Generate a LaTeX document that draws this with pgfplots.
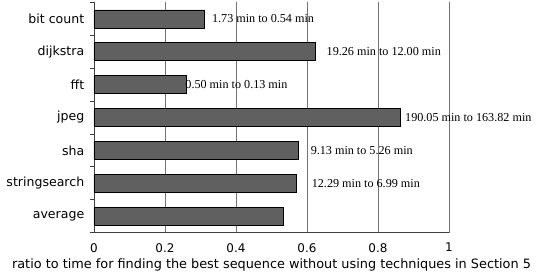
\documentclass[border=0pt]{standalone}
\usepackage{pgfplots}
\pgfplotsset{compat=1.18}
\usepackage{fontspec}
\setmainfont{DejaVu Sans}
\newfontfamily\timesfont{Liberation Serif}
\definecolor{barfill}{RGB}{96,96,96}
\begin{document}
\begin{tikzpicture}
\begin{axis}[
  scale only axis,
  width=355bp, height=230bp,
  xmin=0, xmax=1, ymin=-0.5, ymax=6.5,
  axis x line=bottom, axis y line=left,
  axis line style={-, black!75},
  xtick={0,0.2,0.4,0.6,0.8,1},
  xticklabels={0,0.2,0.4,0.6,0.8,1},
  xmajorgrids, major grid style={black!55, line width=0.6pt},
  x tick style={draw=none},
  ytick={0,...,6},
  yticklabels={average,stringsearch,sha,jpeg,fft,dijkstra,bit count},
  minor ytick={-0.5,0.5,...,6.5},
  y tick style={draw=none},
  minor y tick style={draw=black!75, line width=0.6pt},
  minor tick length=4bp,
  tick align=outside,
  xticklabel style={font=\fontsize{12}{14}\selectfont, yshift=-3bp},
  yticklabel style={font=\fontsize{12.6}{14}\selectfont, xshift=-2bp},
  xlabel={ratio to time for finding the best sequence without using techniques in Section 5},
  xlabel style={font=\fontsize{12.9}{15}\selectfont, yshift=0bp},
  clip=false,
]
\addplot[xbar, bar width=18bp, fill=barfill, draw=black, line width=0.6pt]
  coordinates {(0.312,6) (0.623,5) (0.260,4) (0.862,3) (0.576,2) (0.569,1) (0.534,0)};
\addplot[draw=none, mark=none, nodes near coords, point meta=explicit symbolic,
  every node near coord/.style={anchor=west, inner sep=0pt, font=\timesfont\fontsize{12.2}{14}\selectfont}]
  coordinates {
    (0.332,6) [1.73 min to 0.54 min]
    (0.655,5) [19.26 min to 12.00 min]
    (0.257,4) [0.50 min to 0.13 min]
    (0.876,3) [190.05 min to 163.82 min]
    (0.610,2) [9.13 min to 5.26 min]
    (0.613,1) [12.29 min to 6.99 min]
  };
\end{axis}
\pgfresetboundingbox
\path[use as bounding box] (-94bp,-47bp) rectangle (444bp,232.5bp);
\end{tikzpicture}
\end{document}
